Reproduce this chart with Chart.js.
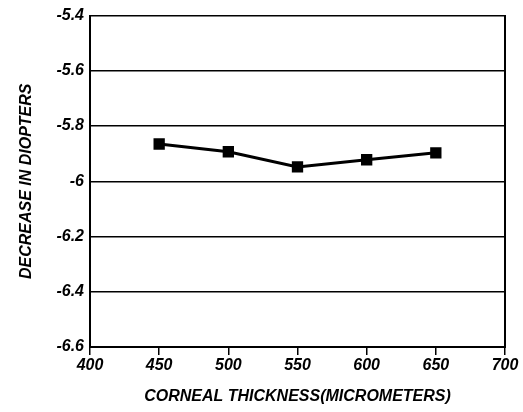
<!DOCTYPE html>
<html>
<head>
<meta charset="utf-8">
<script src="https://cdn.jsdelivr.net/npm/chart.js@4/dist/chart.umd.min.js"></script>
<style>
	html, body { margin: 0; padding: 0; background: #fff; }
	#wrap { width: 523px; height: 412px; position: relative; }
</style>
</head>
<body>
<div id="wrap"><canvas id="chart"></canvas></div>
<script>
// corneal thickness (micrometers) and decrease in diopters
const thickness = [450, 500, 550, 600, 650];
const decrease = [-5.865, -5.893, -5.948, -5.922, -5.897];

const yTicks = [-6.6, -6.4, -6.2, -6, -5.8, -5.6, -5.4];
const yTickLabels = ['-6.6', '-6.4', '-6.2', '-6', '-5.8', '-5.6', '-5.4'];
const xTicks = [400, 450, 500, 550, 600, 650, 700];

const font = { family: '"Liberation Sans", Arial, sans-serif', weight: 'bold', style: 'italic' };

const ctx = document.querySelector('#chart').getContext('2d');

new Chart(ctx, {
	type: 'line',
	data: {
		datasets: [{
			data: thickness.map((t, i) => ({ x: t, y: decrease[i] })),
			borderColor: '#000',
			borderWidth: 3,
			backgroundColor: '#000',
			pointStyle: 'rect',
			pointRadius: 8,
			pointBorderWidth: 0,
			pointBackgroundColor: '#000',
			tension: 0
		}]
	},
	options: {
		responsive: true,
		maintainAspectRatio: false,
		animation: false,
		layout: { padding: { top: 15, left: 0, right: 0, bottom: 0 } },
		plugins: {
			legend: { display: false },
			tooltip: { enabled: false }
		},
		scales: {
			x: {
				type: 'linear',
				min: 400,
				max: 700,
				afterBuildTicks: s => { s.ticks = xTicks.map(v => ({ value: v })); },
				afterFit: s => { s.height = 65; },
				ticks: {
					color: '#000',
					font: { ...font, size: 16 },
					padding: 1,
					maxRotation: 0
				},
				grid: {
					drawOnChartArea: false,
					color: '#000',
					lineWidth: 1.5,
					tickLength: 8
				},
				border: { color: '#000', width: 2 },
				title: {
					display: true,
					text: 'CORNEAL THICKNESS(MICROMETERS)',
					color: '#000',
					font: { ...font, size: 16 },
					padding: { top: 0, bottom: 6 }
				}
			},
			y: {
				min: -6.6,
				max: -5.4,
				afterBuildTicks: s => { s.ticks = yTicks.map(v => ({ value: v })); },
				afterFit: s => { s.width = 90; },
				ticks: {
					color: '#000',
					font: { ...font, size: 16 },
					padding: 6,
					callback: (v) => yTickLabels[yTicks.findIndex(t => Math.abs(t - v) < 1e-6)]
				},
				grid: {
					color: '#000',
					lineWidth: 1.5,
					drawTicks: false
				},
				border: { color: '#000', width: 2 },
				title: {
					display: true,
					text: 'DECREASE IN DIOPTERS',
					color: '#000',
					font: { ...font, size: 16 },
					padding: { top: 17, bottom: 0 }
				}
			},
			y2: {
				position: 'right',
				min: -6.6,
				max: -5.4,
				afterFit: s => { s.width = 18; },
				ticks: { display: false },
				grid: { drawOnChartArea: false, drawTicks: false },
				border: { color: '#000', width: 2 }
			}
		}
	}
});
</script>
</body>
</html>
